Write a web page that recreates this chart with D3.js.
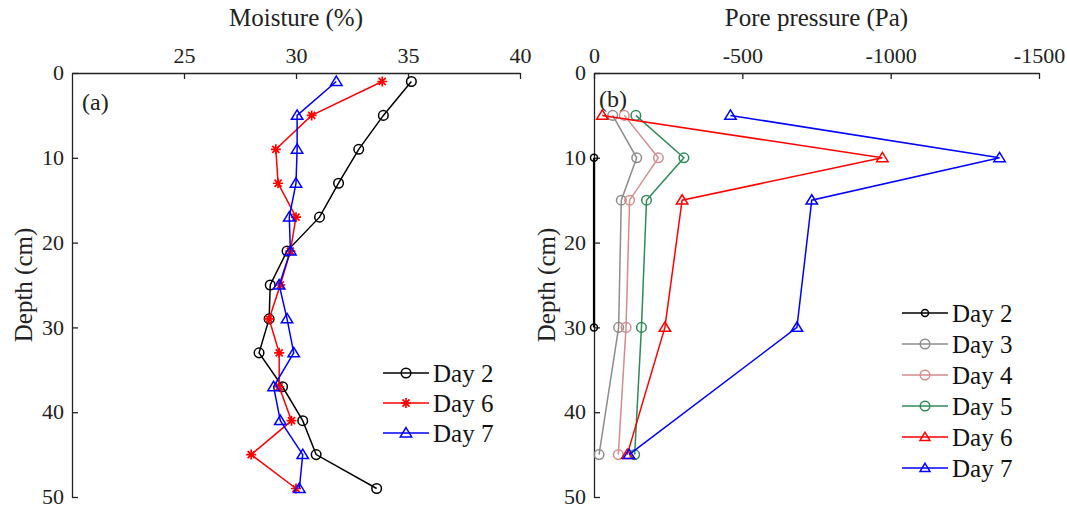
<!DOCTYPE html>
<html>
<head>
<meta charset="utf-8">
<script src="https://cdn.jsdelivr.net/npm/d3@7"></script>
<style>
  body { margin: 0; background: #fff; }
  svg text { font-family: "Liberation Serif", "Times New Roman", serif; fill: #222; }
</style>
</head>
<body>
<svg id="chart" width="1067" height="508"></svg>
<script>
// panel (a) - moisture profile
const moistDepths = [1, 5, 9, 13, 17, 21, 25, 29, 33, 37, 41, 45, 49];
const moistDay2 = [35.15, 33.9, 32.8, 31.9, 31.05, 29.6, 28.85, 28.8, 28.35, 29.4, 30.3, 30.9, 33.6];
const moistDay6 = [33.85, 30.7, 29.1, 29.2, 30.0, 29.75, 29.3, 28.8, 29.25, 29.25, 29.8, 28.0, 30.0];
const moistDay7 = [31.8, 30.05, 30.05, 30.0, 29.7, 29.75, 29.25, 29.6, 29.9, 29.0, 29.3, 30.3, 30.15];
const moistTicks = [25, 30, 35, 40];

// panel (b) - pore pressure
const poreDepths = [5, 10, 15, 30, 45];
const poreDay2Depths = [10, 30];
const poreDay2 = [0, 0];
const poreDay3 = [-63, -144, -92, -83, -17];
const poreDay4 = [-102, -217, -120, -108, -82];
const poreDay5 = [-141, -303, -177, -160, -137];
const poreDay6 = [-28, -972, -297, -239, -112];
const poreDay7 = [-460, -1367, -734, -684, -118];
const poreTicks = [0, -500, -1000, -1500];

const depthTicks = [0, 10, 20, 30, 40, 50];

const svg = d3.select("#chart");

// open markers like matlab's o, * and ^
function drawMarker(g, type, color, r) {
  if (type === "circle") {
    g.append("circle").attr("r", r)
      .style("fill", "none").style("stroke", color).style("stroke-width", 1.5);
  } else if (type === "star") {
    const p = d3.path();
    [0, 45, 90, 135].forEach(a => {
      const t = a * Math.PI / 180;
      p.moveTo(-r * Math.cos(t), -r * Math.sin(t));
      p.lineTo(r * Math.cos(t), r * Math.sin(t));
    });
    g.append("path").attr("d", p.toString())
      .style("fill", "none").style("stroke", color).style("stroke-width", 1.7);
  } else {
    g.append("path").attr("d", `M0,${-r * 1.05}L${r * 1.1},${r * 0.75}L${-r * 1.1},${r * 0.75}Z`)
      .style("fill", "none").style("stroke", color).style("stroke-width", 1.5);
  }
}

function drawPanel(opt) {
  const x = d3.scaleLinear().domain(opt.xDomain).range(opt.xRange);
  const y = d3.scaleLinear().domain([0, 50]).range([73, 497]);
  const g = svg.append("g");

  // top axis, ticks pointing into the plot
  const xAxis = g.append("g")
    .attr("transform", `translate(0,${y(0)})`)
    .call(d3.axisTop(x).tickValues(opt.xTicks).tickSizeInner(-6).tickSizeOuter(0).tickPadding(10)
      .tickFormat(d => String(d)));
  const yAxis = g.append("g")
    .attr("transform", `translate(${x(opt.xDomain[0])},0)`)
    .call(d3.axisLeft(y).tickValues(depthTicks).tickSizeInner(-6).tickSizeOuter(0).tickPadding(8));
  [xAxis, yAxis].forEach(a => {
    a.select(".domain").style("stroke", "#222").style("stroke-width", 1.3);
    a.selectAll(".tick line").style("stroke", "#222").style("stroke-width", 1.3);
    a.selectAll(".tick text").style("font-size", "22px")
      .style("font-family", "'Liberation Serif', serif").style("fill", "#222");
  });
  yAxis.selectAll(".tick text").attr("dy", "0.3em");

  // axis titles
  g.append("text")
    .attr("x", (opt.xRange[0] + opt.xRange[1]) / 2).attr("y", 26)
    .attr("text-anchor", "middle").style("font-size", "25px")
    .text(opt.title);
  g.append("text")
    .attr("transform", `translate(${opt.yLabelX},${y(25)}) rotate(-90)`)
    .attr("text-anchor", "middle").style("font-size", "25px")
    .text("Depth (cm)");

  g.append("text")
    .attr("x", opt.tagX).attr("y", opt.tagY)
    .style("font-size", "24px").text(opt.tag);

  const line = d3.line().x(d => x(d.v)).y(d => y(d.depth));

  opt.series.forEach(s => {
    const pts = s.values.map((v, i) => ({ v: v, depth: s.depths[i] }));
    g.append("path").datum(pts)
      .attr("d", line)
      .style("fill", "none").style("stroke", s.color).style("stroke-width", s.width || 1.5);
    g.selectAll(null).data(pts).enter().append("g")
      .attr("transform", d => `translate(${x(d.v)},${y(d.depth)})`)
      .each(function () { drawMarker(d3.select(this), s.marker, s.color, s.r); });
  });

  // legend
  const lg = g.append("g");
  opt.series.forEach((s, i) => {
    const ly = opt.legendY + i * opt.legendStep;
    lg.append("line")
      .attr("x1", opt.legendX).attr("x2", opt.legendX + 46)
      .attr("y1", ly).attr("y2", ly)
      .style("stroke", s.color).style("stroke-width", 1.5);
    drawMarker(lg.append("g").attr("transform", `translate(${opt.legendX + 23},${ly})`),
      s.marker, s.color, s.legendR || s.r);
    lg.append("text")
      .attr("x", opt.legendX + 50).attr("y", ly).attr("dy", "0.35em")
      .style("font-size", "25px").style("fill", "#111")
      .text(s.name);
  });
}

drawPanel({
  xDomain: [20, 40], xRange: [72, 520], xTicks: moistTicks,
  title: "Moisture (%)", yLabelX: 32, tag: "(a)", tagX: 82, tagY: 110,
  legendX: 383, legendY: 373, legendStep: 30,
  series: [
    { name: "Day 2", depths: moistDepths, values: moistDay2, color: "#000000", marker: "circle", r: 4.8 },
    { name: "Day 6", depths: moistDepths, values: moistDay6, color: "#ff0000", marker: "star", r: 5 },
    { name: "Day 7", depths: moistDepths, values: moistDay7, color: "#0000ff", marker: "tri", r: 5.2 }
  ]
});

drawPanel({
  xDomain: [0, -1500], xRange: [594, 1039], xTicks: poreTicks,
  title: "Pore pressure (Pa)", yLabelX: 555, tag: "(b)", tagX: 599, tagY: 107,
  legendX: 902, legendY: 313, legendStep: 31,
  series: [
    { name: "Day 2", depths: poreDay2Depths, values: poreDay2, color: "#000000", marker: "circle", r: 3.5, width: 2.2 },
    { name: "Day 3", depths: poreDepths, values: poreDay3, color: "#8c8c8c", marker: "circle", r: 4.8 },
    { name: "Day 4", depths: poreDepths, values: poreDay4, color: "#d48c8c", marker: "circle", r: 4.8 },
    { name: "Day 5", depths: poreDepths, values: poreDay5, color: "#2e8b5a", marker: "circle", r: 4.8 },
    { name: "Day 6", depths: poreDepths, values: poreDay6, color: "#ff0000", marker: "tri", r: 5.2, legendR: 4.5 },
    { name: "Day 7", depths: poreDepths, values: poreDay7, color: "#0000ff", marker: "tri", r: 5.2, legendR: 4.5 }
  ]
});
</script>
</body>
</html>
